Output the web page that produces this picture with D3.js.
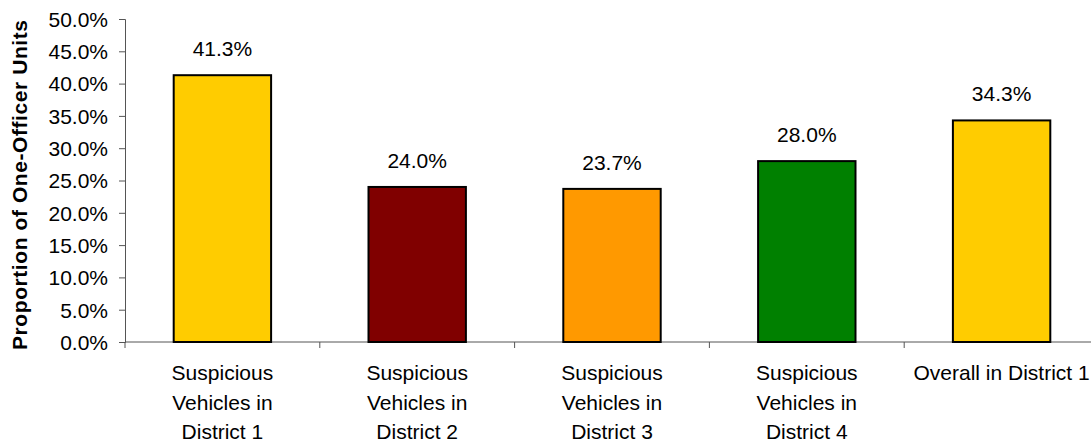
<!DOCTYPE html>
<html>
<head>
<meta charset="utf-8">
<script src="https://cdn.jsdelivr.net/npm/d3@7"></script>
<style>
  body { margin: 0; background: #fff; }
  text { font-family: "Liberation Sans", Arial, sans-serif; fill: #000; }
</style>
</head>
<body>
<svg width="1091" height="447"></svg>
<script>
// --- data ---
const categories = [
  ["Suspicious", "Vehicles in", "District 1"],
  ["Suspicious", "Vehicles in", "District 2"],
  ["Suspicious", "Vehicles in", "District 3"],
  ["Suspicious", "Vehicles in", "District 4"],
  ["Overall in District 1"]
];
const values = [41.3, 24.0, 23.7, 28.0, 34.3];
const barColors = ["#FFCC00", "#800000", "#FF9900", "#008000", "#FFCC00"];
const yTicks = [0, 5, 10, 15, 20, 25, 30, 35, 40, 45, 50];

// --- setup ---
const svg = d3.select("svg");
const plotLeft = 125, plotRight = 1099, plotTop = 19, plotBottom = 342;

const x = d3.scaleBand().domain(d3.range(values.length)).range([plotLeft, plotRight]).paddingInner(0.5).paddingOuter(0.25);
const y = d3.scaleLinear().domain([0, 50]).range([plotBottom, plotTop]);

// y axis
const yAxis = svg.append("g").attr("transform", `translate(${plotLeft},0)`)
  .call(d3.axisLeft(y).tickValues(yTicks).tickSize(6).tickPadding(11).tickFormat(d => d.toFixed(1) + "%"));
yAxis.selectAll("line, path").attr("stroke", "#555");
yAxis.selectAll("text").style("font-size", "21px").attr("dy", "0.35em");

// x axis line + boundary ticks
const step = x.step();
const bounds = d3.range(values.length + 1).map(i => plotLeft + i * step);
svg.append("line").attr("x1", plotLeft).attr("x2", plotRight).attr("y1", plotBottom).attr("y2", plotBottom).attr("stroke", "#555");
svg.selectAll(".xtick").data(bounds).join("line")
  .attr("x1", d => d).attr("x2", d => d).attr("y1", plotBottom).attr("y2", plotBottom + 6).attr("stroke", "#555");

// bars
svg.selectAll(".bar").data(values).join("rect")
  .attr("x", (d, i) => x(i)).attr("width", x.bandwidth())
  .attr("y", d => y(d)).attr("height", d => plotBottom - y(d))
  .attr("fill", (d, i) => barColors[i]).attr("stroke", "#000").attr("stroke-width", 2);

// value labels
svg.selectAll(".val").data(values).join("text")
  .attr("x", (d, i) => x(i) + x.bandwidth() / 2).attr("y", d => y(d) - 19)
  .attr("text-anchor", "middle").style("font-size", "21px")
  .text(d => d.toFixed(1) + "%");

// category labels
categories.forEach((lines, i) => {
  const t = svg.append("text").attr("text-anchor", "middle").style("font-size", "21px");
  lines.forEach((s, j) => {
    t.append("tspan").attr("x", x(i) + x.bandwidth() / 2).attr("y", 380 + j * 29.7).text(s);
  });
});

// y axis title
svg.append("text")
  .attr("transform", `translate(27,185) rotate(-90)`)
  .attr("text-anchor", "middle").style("font-size", "21px").style("font-weight", "bold")
  .attr("textLength", 330).attr("lengthAdjust", "spacing")
  .text("Proportion of One-Officer Units");
</script>
</body>
</html>
